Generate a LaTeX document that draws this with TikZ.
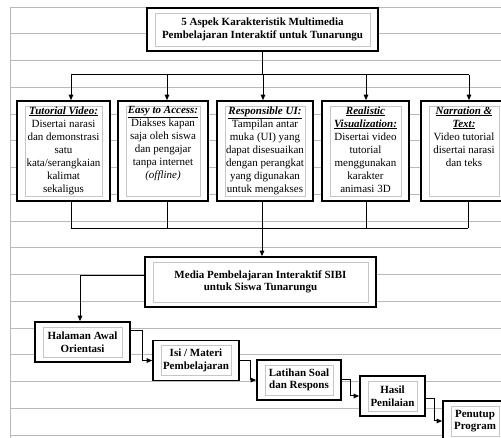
\documentclass[tikz,border=0pt]{standalone}
\usepackage{fontspec}
\setmainfont{Liberation Serif}
\usetikzlibrary{arrows.meta,positioning}
\definecolor{ruleGray}{HTML}{B9B9B9}
\definecolor{innerGray}{HTML}{C6C6C6}
\newcommand{\asphead}[1]{\underline{\textbf{\textit{#1}}}}

\begin{document}
\begin{tikzpicture}[x=1pt, y=-1pt,
    >={Triangle[length=5.5pt,width=4.5pt]},
    rule/.style={ruleGray, line width=0.9pt},
    outbox/.style={draw=black, line width=1.6pt, fill=white, inner sep=0pt, align=center,
                   font=\fontsize{11}{12.5}\selectfont\bfseries,
                   path picture={\draw[innerGray, line width=0.9pt]
                     ([shift={(8pt,-5pt)}]path picture bounding box.north west) rectangle
                     ([shift={(-8pt,5pt)}]path picture bounding box.south east);}},
    aspect/.style={outbox, minimum width=#1, minimum height=100pt},
    flowbox/.style={outbox, minimum height=40pt},
    desc/.style={align=center, inner sep=0pt, font=\fontsize{11}{13}\selectfont},
    link/.style={line width=1pt, black}
  ]
  \useasboundingbox (0,0) rectangle (501,438);
  \clip (0,0) rectangle (501,438);

  % ruled background
  \foreach \k in {0,...,16}
    \draw[rule] (10,{7+26.75*\k}) -- (501,{7+26.75*\k});
  \draw[rule] (10,7) -- (10,438);

  % title
  \node[outbox, minimum width=231pt, minimum height=43pt] (top) at (262.5,29.5)
    {5 Aspek Karakteristik Multimedia\\ Pembelajaran Interaktif untuk Tunarungu};

  % five aspects
  \node[aspect=93pt] (b1) at (63.5,151) {};
  \node[aspect=90pt] (b2) at (163,151)  {};
  \node[aspect=96pt] (b3) at (265,151)  {};
  \node[aspect=87pt] (b4) at (365.5,151) {};
  \node[aspect=86pt] (b5) at (464,151)  {};

  \node[desc, below=6pt of b1.north] (l1)
    {\asphead{Tutorial Video:}\\ Disertai narasi\\ dan demonstrasi\\ satu\\ kata/serangkaian\\ kalimat\\ sekaligus};
  \node[desc, below=6pt of b2.north] (l2)
    {\asphead{Easy to Access:}\\ Diakses kapan\\ saja oleh siswa\\ dan pengajar\\ tanpa internet\\ \textit{(offline)}};
  \node[desc, below=6pt of b3.north] (l3)
    {\asphead{Responsible UI:}\\ Tampilan antar\\ muka (UI) yang\\ dapat disesuaikan\\ dengan perangkat\\ yang digunakan\\ untuk mengakses};
  \node[desc, below=6pt of b4.north] (l4)
    {\asphead{Realistic}\\ \asphead{Visualization:}\\ Disertai video\\ tutorial\\ menggunakan\\ karakter\\ animasi 3D};
  \node[desc, below=6pt of b5.north] (l5)
    {\asphead{Narration \&}\\ \asphead{Text:}\\ Video tutorial\\ disertai narasi\\ dan teks};

  % media
  \node[outbox, minimum width=231pt, minimum height=50pt] (media) at (260.5,282)
    {Media Pembelajaran Interaktif SIBI\\ untuk Siswa Tunarungu};

  % flow
  \node[flowbox, minimum width=95pt] (hal) at (82.5,342)  {Halaman Awal\\ Orientasi};
  \node[flowbox, minimum width=86pt] (isi) at (196,360.5) {Isi / Materi\\ Pembelajaran};
  \node[flowbox, minimum width=84pt] (lat) at (299,380)   {Latihan Soal\\ dan Respons};
  \node[flowbox, minimum width=65pt] (has) at (392.5,396) {Hasil\\ Penilaian};
  \node[flowbox, minimum width=64pt] (pen) at (475,421)   {Penutup\\ Program};

  % fan out
  \coordinate (in1) at ([xshift=7.5pt]b1.north);
  \coordinate (in2) at ([xshift=4pt]b2.north);
  \coordinate (in3) at ([xshift=-2pt]b3.north);
  \coordinate (in4) at ([xshift=0.5pt]b4.north);
  \coordinate (in5) at ([xshift=5pt]b5.north);
  \draw[link] (top.south) -- ++(0,23) coordinate (fork);
  \draw[link] (fork -| in1) -- (fork -| in5);
  \foreach \i in {1,...,5}
    \draw[link, ->] (fork -| in\i) -- (in\i);

  % fan in
  \coordinate (out1) at ([xshift=7.5pt]b1.south);
  \coordinate (out2) at ([xshift=4pt]b2.south);
  \coordinate (out3) at ([xshift=-3pt]b3.south);
  \coordinate (out4) at ([xshift=0.5pt]b4.south);
  \coordinate (out5) at ([xshift=4pt]b5.south);
  \coordinate (join) at ([yshift=28pt]media.north);
  \foreach \i in {1,...,5}
    \draw[link] (out\i) -- (out\i |- join);
  \draw[link] (out1 |- join) -- (out5 |- join);
  \draw[link, ->] (out3 |- join) -- (out3 |- media.north);

  % steps
  \draw[link, ->] ([yshift=6pt]media.west) -| ([xshift=-2.5pt]hal.north);
  \draw[link, ->] ([yshift=11pt]hal.east) -- ++(12,0) |- (isi.west);
  \draw[link, ->] (isi.east) -- ++(11,0) |- (lat.west);
  \draw[link, ->] (lat.east) -- ++(9,0) |- (has.west);
  \draw[link, ->] ([yshift=-3pt]has.east) -- ++(9,0) |- (pen.west);
\end{tikzpicture}
\end{document}
